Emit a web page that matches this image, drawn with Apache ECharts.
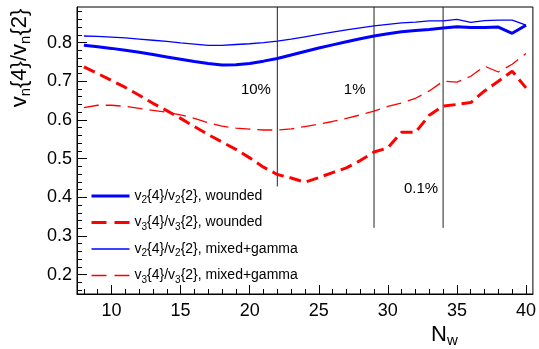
<!DOCTYPE html>
<html><head><meta charset="utf-8">
<script src="https://cdn.jsdelivr.net/npm/echarts@6/dist/echarts.min.js"></script>
<style>html,body{margin:0;padding:0;background:#fff}#c{width:539px;height:349px}</style>
</head><body><div id="c"></div>
<script>
// N_w values
const nw = [8,9,10,11,12,13,14,15,16,17,18,19,20,21,22,23,24,25,26,27,28,29,30,31,32,33,34,35,36,37,38,39,40];
// v2{4}/v2{2}, wounded
const v2Wounded = [0.793,0.789,0.785,0.780,0.775,0.769,0.763,0.757,0.751,0.746,0.742,0.743,0.746,0.752,0.759,0.768,0.777,0.786,0.794,0.802,0.810,0.817,0.823,0.828,0.831,0.834,0.838,0.841,0.839,0.839,0.840,0.824,0.845];
// v3{4}/v3{2}, wounded
const v3Wounded = [0.737,0.720,0.702,0.684,0.664,0.643,0.624,0.604,0.583,0.562,0.543,0.524,0.502,0.478,0.459,0.450,0.439,0.451,0.464,0.476,0.495,0.517,0.528,0.568,0.568,0.612,0.636,0.640,0.645,0.675,0.700,0.726,0.683];
// v2{4}/v2{2}, mixed+gamma
const v2Mixed = [0.817,0.816,0.814,0.812,0.809,0.806,0.803,0.799,0.796,0.793,0.793,0.795,0.797,0.800,0.804,0.809,0.815,0.821,0.827,0.833,0.838,0.843,0.847,0.851,0.853,0.856,0.856,0.860,0.852,0.857,0.858,0.858,0.845];
// v3{4}/v3{2}, mixed+gamma
const v3Mixed = [0.632,0.638,0.638,0.635,0.630,0.625,0.620,0.613,0.604,0.593,0.584,0.579,0.576,0.574,0.574,0.577,0.583,0.589,0.596,0.604,0.613,0.623,0.635,0.644,0.656,0.675,0.700,0.698,0.713,0.739,0.724,0.744,0.772];

// centrality cut lines
const cutN = [22, 29, 34];
const cutLow = [0.428, 0.321, 0.321];
const cutLabels = ['10%', '1%', '0.1%'];
const cutLabelN = [20.45, 27.6, 32.4];
const cutLabelV = [0.677, 0.677, 0.422];

// ticks
const xMajor = [10,15,20,25,30,35,40];
const xMinor = [8,9,11,12,13,14,16,17,18,19,21,22,23,24,26,27,28,29,31,32,33,34,36,37,38,39];
const yMajor = [0.2,0.3,0.4,0.5,0.6,0.7,0.8];
const yMinor = [0.16,0.18,0.22,0.24,0.26,0.28,0.32,0.34,0.36,0.38,0.42,0.44,0.46,0.48,0.52,0.54,0.56,0.58,0.62,0.64,0.66,0.68,0.72,0.74,0.76,0.78,0.82,0.84,0.86,0.88];

const names = ['v2{4}/v2{2}, wounded','v3{4}/v3{2}, wounded','v2{4}/v2{2}, mixed+gamma','v3{4}/v3{2}, mixed+gamma'];
function legendText(n){
  return n.replace(/v(\d)/g, 'v{s|$1}');
}

const X_MIN = 7.5, X_MAX = 40.5, Y_MIN = 0.15, Y_MAX = 0.892;
const FF = 'Liberation Sans, Arial, sans-serif';
const BLUE = '#0000ff', RED = '#ff0000';
const styles = [
  {color:BLUE, width:3, type:'solid'},
  {color:RED, width:3, type:[12,6]},
  {color:BLUE, width:1.3, type:'solid'},
  {color:RED, width:1.3, type:[15,7]}
];
const legendStyles = [
  {color:BLUE, width:3, type:'solid'},
  {color:RED, width:3, type:[15,8]},
  {color:BLUE, width:1.3, type:'solid'},
  {color:RED, width:1.3, type:[15,8]}
];

function pair(xs, ys){ return xs.map((x,i)=>[x, ys[i]]); }

const values = [v2Wounded, v3Wounded, v2Mixed, v3Mixed];
const series = values.map((v,i)=>({
  name: names[i], type:'line', data: pair(nw, v), symbol:'none',
  lineStyle: styles[i], itemStyle:{color: styles[i].color}, z: i < 2 ? 5 : 4
}));
cutN.forEach((n,i)=>{
  series.push({type:'line', data:[[n, Y_MAX],[n, cutLow[i]]], symbol:'none', silent:true,
    lineStyle:{color:'#222', width:1}, z:3});
});
series.push({type:'scatter', symbolSize:1, silent:true, itemStyle:{opacity:0},
  data: cutLabels.map((t,i)=>({value:[cutLabelN[i], cutLabelV[i]], name:t})),
  label:{show:true, position:'inside', formatter: p=>p.name, color:'#000', opacity:1, fontSize:15, fontFamily:FF}});

const chart = echarts.init(document.getElementById('c'), null, {renderer:'canvas'});
chart.setOption({
  animation:false,
  backgroundColor:'#fff',
  grid:{left:77, right:5, top:7, bottom:55, show:true, borderColor:'#000', borderWidth:1, backgroundColor:'transparent'},
  xAxis:[
    {type:'value', min:X_MIN, max:X_MAX, position:'bottom',
     axisLine:{show:true, onZero:false, lineStyle:{color:'#000', width:1}},
     axisTick:{show:true, inside:true, length:9, customValues:xMajor, lineStyle:{color:'#000'}},
     axisLabel:{customValues:xMajor, fontSize:18, color:'#000', margin:8, fontFamily:FF},
     splitLine:{show:false}},
    {type:'value', min:X_MIN, max:X_MAX, position:'bottom',
     axisLine:{show:false, onZero:false},
     axisTick:{show:true, inside:true, length:5, customValues:xMinor, lineStyle:{color:'#000'}},
     axisLabel:{show:false}, splitLine:{show:false}}
  ],
  yAxis:[
    {type:'value', min:Y_MIN, max:Y_MAX, position:'left',
     axisLine:{show:true, onZero:false, lineStyle:{color:'#000', width:1}},
     axisTick:{show:true, inside:true, length:10, customValues:yMajor, lineStyle:{color:'#000'}},
     axisLabel:{customValues:yMajor, fontSize:18, color:'#000', margin:5, fontFamily:FF},
     splitLine:{show:false}},
    {type:'value', min:Y_MIN, max:Y_MAX, position:'left',
     axisLine:{show:false, onZero:false},
     axisTick:{show:true, inside:true, length:5, customValues:yMinor, lineStyle:{color:'#000'}},
     axisLabel:{show:false}, splitLine:{show:false}}
  ],
  legend:{
    data: names.map((n,i)=>({name:n, lineStyle: legendStyles[i], itemStyle:{opacity:0}})),
    orient:'vertical', left:85, top:184, itemWidth:38, itemHeight:14, itemGap:10,
    itemStyle:{opacity:0},
    formatter: n=>legendText(n),
    textStyle:{fontSize:14, color:'#000', fontFamily:FF,
      rich:{s:{fontSize:10, padding:[9,0,0,0], fontFamily:FF, color:'#000'}}},
    selectedMode:false
  },
  graphic:[
    {type:'text', x:20, y:58, rotation:Math.PI/2,
     style:{text:'v{s|n}{4}/v{s|n}{2}', fontSize:22, fontFamily:FF, fill:'#000', align:'center', verticalAlign:'middle',
       rich:{s:{fontSize:15, padding:[12,0,0,0], fontFamily:FF, fill:'#000'}}}},
    {type:'text', x:431, y:335,
     style:{text:'N{s|w}', fontSize:22, fontFamily:FF, fill:'#000', align:'left', verticalAlign:'middle',
       rich:{s:{fontSize:15, padding:[12,0,0,0], fontFamily:FF, fill:'#000'}}}}
  ],
  series: series
});
</script>
</body></html>
